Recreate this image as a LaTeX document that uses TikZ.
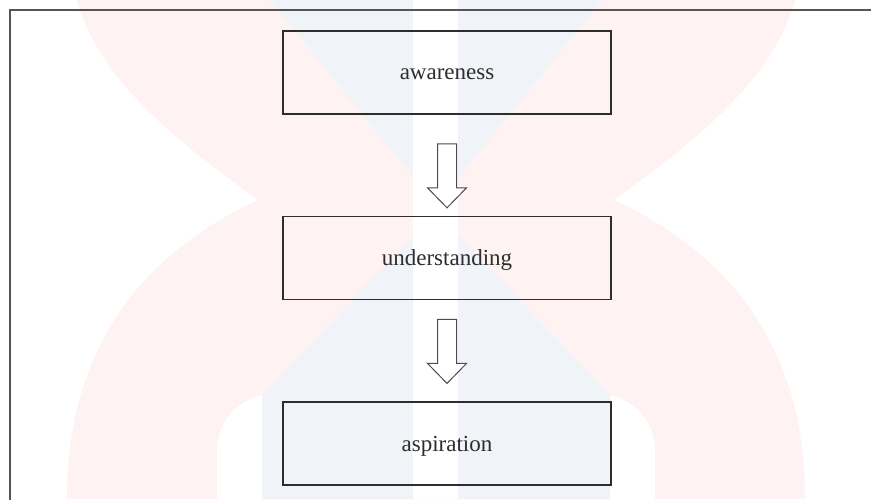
\documentclass[tikz,border=0pt]{standalone}
\usepackage{fontspec}
\setmainfont{Liberation Serif}
\usepackage{tikz}
\usetikzlibrary{positioning,calc}
\usepackage{xcolor}

\definecolor{wmpink}{RGB}{254,242,242}
\definecolor{wmblue}{RGB}{240,244,248}
\definecolor{framegray}{RGB}{85,85,85}
\definecolor{inkgray}{RGB}{45,45,45}

\tikzset{
	stage/.style={draw=inkgray, line width=0.8pt, minimum width=164pt, minimum height=41.5pt,
		inner sep=0pt, text=inkgray, font=\fontsize{11.5}{14}\selectfont,
		text height=0.95em, text depth=0.21em},
	hollow/.style={draw=inkgray!85, line width=0.5pt, fill=white, line join=miter},
}

\begin{document}
\begin{tikzpicture}[x=0.5pt, y=-0.5pt]

		% === picture bounds (px of the scan, y downwards) ===
		\def\wmax{871}	\def\hmax{499}
		\useasboundingbox (0,0) rectangle (\wmax,\hmax);
		\clip (0,0) rectangle (\wmax,\hmax);
		\fill[white] (0,0) rectangle (\wmax,\hmax);

		% === watermark ===
		\fill[wmpink] (77,0) .. controls (100,85) and (190,150) .. (258,200)
			.. controls (130,260) and (67,360) .. (67,499) -- (805,499)
			.. controls (805,360) and (742,260) .. (614,200)
			.. controls (682,150) and (772,85) .. (795,0) -- cycle;
		\fill[white] (217,499) -- (217,450) .. controls (217,420) and (240,400) .. (262,395) -- (262,499) -- cycle;	% inner arch, left
		\fill[white] (655,499) -- (655,450) .. controls (655,420) and (632,400) .. (610,395) -- (610,499) -- cycle;	% inner arch, right
		\fill[wmblue] (270,0) -- (436,205) -- (602,0) -- cycle;
		\fill[wmblue] (436,212) -- (262,395) -- (262,499) -- (610,499) -- (610,395) -- cycle;
		\fill[white] (413,0) rectangle (458,\hmax);

		% === outer frame ===
		\draw[framegray, line width=0.8pt] (10,10) rectangle (\wmax+20,\hmax+20);

		% === stages ===
		\node[stage] (aware) at (447,72.5) {awareness};
		\node[stage, below=50.5pt of aware] (under) {understanding};
		\node[stage, below=50.5pt of under] (aspire) {aspiration};

		% === hollow arrows ===
		\foreach \src/\gap in {aware/29, under/19} {
			\draw[hollow] ($(\src.south)+(-9.5,\gap)$) -- ++(0,44) -- ++(-10,0) -- ++(19.5,20)
				-- ++(19.5,-20) -- ++(-10,0) -- ++(0,-44) -- cycle;
		}
	\end{tikzpicture}
\end{document}
